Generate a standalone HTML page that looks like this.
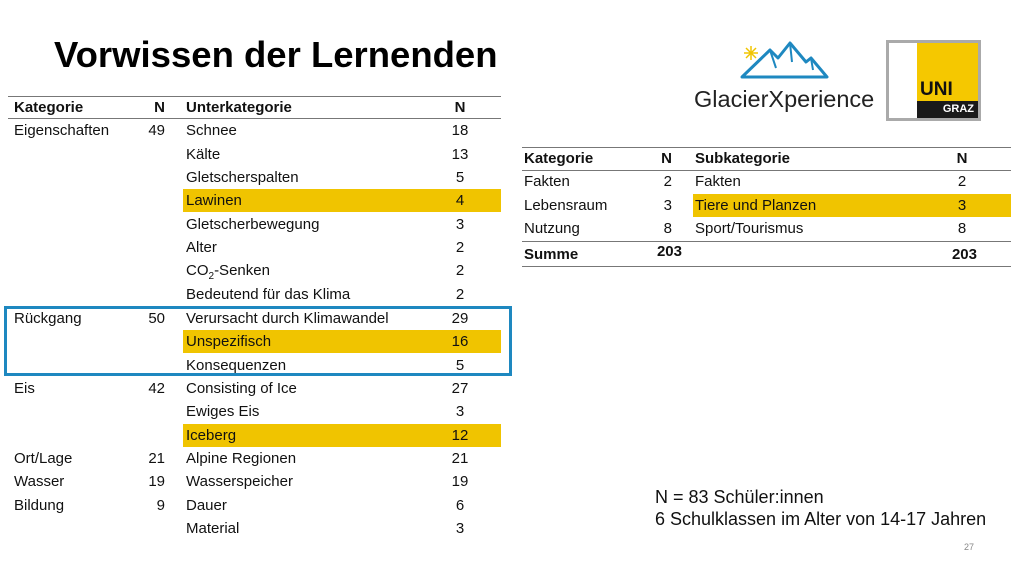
<!DOCTYPE html>
<html><head><meta charset="utf-8"><style>
*{margin:0;padding:0;box-sizing:border-box}
body{width:1024px;height:576px;background:#fff;position:relative;overflow:hidden;font-family:"Liberation Sans",sans-serif;color:#111}
.a{position:absolute;white-space:nowrap}
.t{font-size:15px;line-height:22px;height:22px;margin-top:1px}
.r{text-align:right}
.c{text-align:center}
.b{font-weight:bold}
.hl{position:absolute;background:#f0c400}
.ln{position:absolute;height:1px;background:#777}
</style></head><body>
<div class="a b" style="left:54px;top:32px;font-size:36.5px;line-height:46px;color:#000">Vorwissen der Lernenden</div>

<!-- left table -->
<div class="ln" style="left:8px;top:96px;width:493px"></div>
<div class="ln" style="left:8px;top:118px;width:493px"></div>
<div class="hl" style="left:183px;top:189px;width:318px;height:23px"></div>
<div class="hl" style="left:183px;top:330px;width:318px;height:23px"></div>
<div class="hl" style="left:183px;top:424px;width:318px;height:23px"></div>
<div class="a" style="left:4px;top:306px;width:508px;height:70px;border:3px solid #1e88c0"></div>

<div class="a t b" style="left:14px;top:96px">Kategorie</div>
<div class="a t b r" style="left:125px;top:96px;width:40px">N</div>
<div class="a t b" style="left:186px;top:96px">Unterkategorie</div>
<div class="a t b c" style="left:445px;top:96px;width:30px">N</div>

<div class="a t" style="left:14px;top:119px">Eigenschaften</div>
<div class="a t r" style="left:125px;top:119px;width:40px">49</div>
<div class="a t" style="left:14px;top:307px">Rückgang</div>
<div class="a t r" style="left:125px;top:307px;width:40px">50</div>
<div class="a t" style="left:14px;top:377px">Eis</div>
<div class="a t r" style="left:125px;top:377px;width:40px">42</div>
<div class="a t" style="left:14px;top:447px">Ort/Lage</div>
<div class="a t r" style="left:125px;top:447px;width:40px">21</div>
<div class="a t" style="left:14px;top:470px">Wasser</div>
<div class="a t r" style="left:125px;top:470px;width:40px">19</div>
<div class="a t" style="left:14px;top:494px">Bildung</div>
<div class="a t r" style="left:125px;top:494px;width:40px">9</div>

<div class="a t" style="left:186px;top:119px">Schnee</div><div class="a t c" style="left:445px;top:119px;width:30px">18</div>
<div class="a t" style="left:186px;top:143px">Kälte</div><div class="a t c" style="left:445px;top:143px;width:30px">13</div>
<div class="a t" style="left:186px;top:166px">Gletscherspalten</div><div class="a t c" style="left:445px;top:166px;width:30px">5</div>
<div class="a t" style="left:186px;top:189px">Lawinen</div><div class="a t c" style="left:445px;top:189px;width:30px">4</div>
<div class="a t" style="left:186px;top:213px">Gletscherbewegung</div><div class="a t c" style="left:445px;top:213px;width:30px">3</div>
<div class="a t" style="left:186px;top:236px">Alter</div><div class="a t c" style="left:445px;top:236px;width:30px">2</div>
<div class="a t" style="left:186px;top:259px">CO<sub style="font-size:10px">2</sub>-Senken</div><div class="a t c" style="left:445px;top:259px;width:30px">2</div>
<div class="a t" style="left:186px;top:283px">Bedeutend für das Klima</div><div class="a t c" style="left:445px;top:283px;width:30px">2</div>
<div class="a t" style="left:186px;top:307px">Verursacht durch Klimawandel</div><div class="a t c" style="left:445px;top:307px;width:30px">29</div>
<div class="a t" style="left:186px;top:330px">Unspezifisch</div><div class="a t c" style="left:445px;top:330px;width:30px">16</div>
<div class="a t" style="left:186px;top:354px">Konsequenzen</div><div class="a t c" style="left:445px;top:354px;width:30px">5</div>
<div class="a t" style="left:186px;top:377px">Consisting of Ice</div><div class="a t c" style="left:445px;top:377px;width:30px">27</div>
<div class="a t" style="left:186px;top:400px">Ewiges Eis</div><div class="a t c" style="left:445px;top:400px;width:30px">3</div>
<div class="a t" style="left:186px;top:424px">Iceberg</div><div class="a t c" style="left:445px;top:424px;width:30px">12</div>
<div class="a t" style="left:186px;top:447px">Alpine Regionen</div><div class="a t c" style="left:445px;top:447px;width:30px">21</div>
<div class="a t" style="left:186px;top:470px">Wasserspeicher</div><div class="a t c" style="left:445px;top:470px;width:30px">19</div>
<div class="a t" style="left:186px;top:494px">Dauer</div><div class="a t c" style="left:445px;top:494px;width:30px">6</div>
<div class="a t" style="left:186px;top:517px">Material</div><div class="a t c" style="left:445px;top:517px;width:30px">3</div>

<!-- right table -->
<div class="ln" style="left:522px;top:147px;width:489px"></div>
<div class="ln" style="left:522px;top:170px;width:489px"></div>
<div class="ln" style="left:522px;top:241px;width:489px"></div>
<div class="ln" style="left:522px;top:266px;width:489px"></div>
<div class="hl" style="left:693px;top:194px;width:318px;height:23px"></div>
<div class="a t b" style="left:524px;top:147px">Kategorie</div>
<div class="a t b r" style="left:632px;top:147px;width:40px">N</div>
<div class="a t b" style="left:695px;top:147px">Subkategorie</div>
<div class="a t b c" style="left:947px;top:147px;width:30px">N</div>
<div class="a t" style="left:524px;top:170px">Fakten</div><div class="a t r" style="left:632px;top:170px;width:40px">2</div>
<div class="a t" style="left:695px;top:170px">Fakten</div><div class="a t c" style="left:947px;top:170px;width:30px">2</div>
<div class="a t" style="left:524px;top:194px">Lebensraum</div><div class="a t r" style="left:632px;top:194px;width:40px">3</div>
<div class="a t" style="left:695px;top:194px">Tiere und Planzen</div><div class="a t c" style="left:947px;top:194px;width:30px">3</div>
<div class="a t" style="left:524px;top:217px">Nutzung</div><div class="a t r" style="left:632px;top:217px;width:40px">8</div>
<div class="a t" style="left:695px;top:217px">Sport/Tourismus</div><div class="a t c" style="left:947px;top:217px;width:30px">8</div>
<div class="a t b" style="left:524px;top:243px">Summe</div>
<div class="a t b r" style="left:632px;top:240px;width:50px">203</div>
<div class="a t b r" style="left:927px;top:243px;width:50px">203</div>

<!-- logo -->
<svg class="a" style="left:740px;top:40px" width="90" height="40" viewBox="0 0 90 40">
<g stroke="#f0c400" stroke-width="1.5"><line x1="11" y1="6" x2="11" y2="20"/><line x1="4" y1="13" x2="18" y2="13"/><line x1="6" y1="8" x2="16" y2="18"/><line x1="16" y1="8" x2="6" y2="18"/></g>
<path d="M2 37 L30 10 L38 18 L50 3 L66 22 L71 18 L87 37 Z" fill="none" stroke="#1e88c0" stroke-width="3" stroke-linejoin="round"/>
<path d="M30 10 L36 28 M50 3 L52 22 M71 18 L73 30" stroke="#1e88c0" stroke-width="2" fill="none"/>
</svg>
<div class="a" style="left:694px;top:84px;font-size:23.5px;line-height:30px;color:#222">GlacierXperience</div>
<div class="a" style="left:886px;top:40px;width:95px;height:81px;border:3px solid #aaa;background:#fff"></div>
<div class="a" style="left:917px;top:43px;width:61px;height:75px;background:#f5c800"></div>
<div class="a b" style="left:920px;top:80px;font-size:19px;line-height:20px;color:#111">UNI</div>
<div class="a" style="left:917px;top:101px;width:61px;height:17px;background:#1a1a1a;color:#fff;font-size:11px;font-weight:bold;line-height:17px;text-align:right;padding-right:4px">GRAZ</div>

<div class="a" style="left:655px;top:486px;font-size:18px;line-height:22px;color:#111">N = 83 Schüler:innen</div>
<div class="a" style="left:655px;top:508px;font-size:18px;line-height:22px;color:#111">6 Schulklassen im Alter von 14-17 Jahren</div>
<div class="a" style="left:964px;top:542px;font-size:9px;color:#888">27</div>
</body></html>
